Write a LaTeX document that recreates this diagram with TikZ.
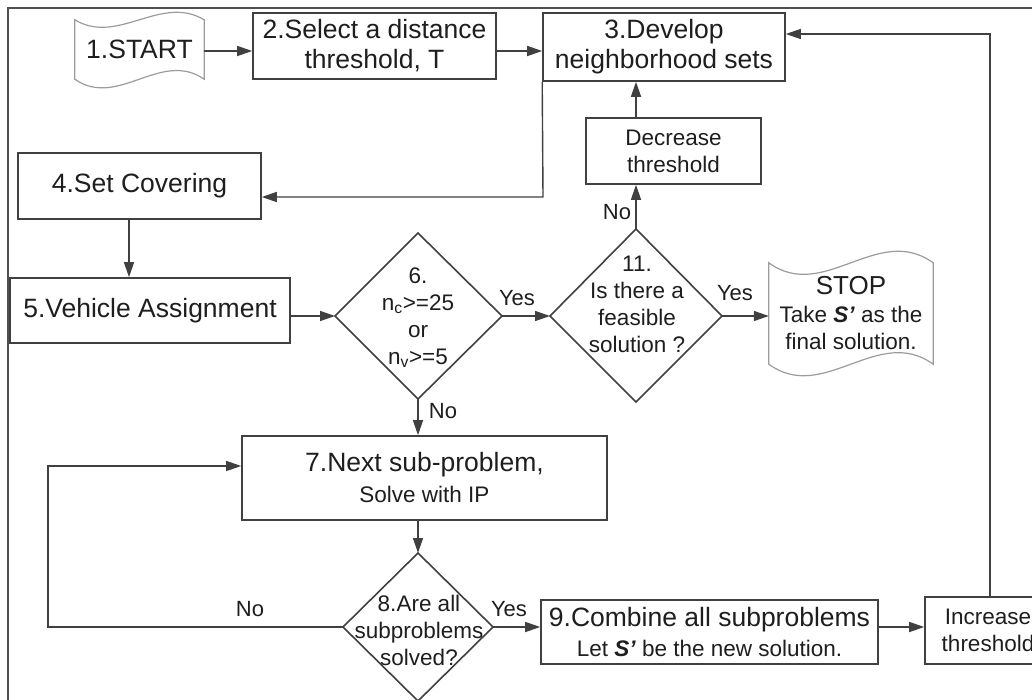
\documentclass[tikz,border=0pt]{standalone}
\usepackage{fontspec}
\setmainfont{Liberation Sans}
\usetikzlibrary{arrows.meta,calc}
\definecolor{ln}{HTML}{404040}
\definecolor{tx}{HTML}{1E1E1E}
\definecolor{tp}{HTML}{9C9C9C}
\definecolor{fr}{HTML}{505050}
\begin{document}
\begin{tikzpicture}[x=1pt,y=-1pt,
  box/.style={draw=ln,line width=1.6pt,fill=white,inner sep=0pt,align=center,text=tx},
  big/.style={font=\fontsize{26.5}{30}\selectfont},
  small/.style={font=\fontsize{22.5}{27}\selectfont},
  mixed/.style={font=\fontsize{22.5}{30}\selectfont},
  conn/.style={draw=ln,line width=1.4pt,-{Triangle[length=15pt,width=10pt]}},
  plain/.style={draw=ln,line width=1.4pt},
  lbl/.style={font=\fontsize{22}{26}\selectfont,text=tx,inner sep=0pt},
  tape/.style={draw=tp,line width=1.2pt},
  dia/.style={draw=ln,line width=1.6pt,fill=white},
  txt/.style={text=tx,align=center,inner sep=0pt}]
\useasboundingbox (0,0) rectangle (1032,700);
\clip (0,0) rectangle (1032,700);
\fill[white] (0,0) rectangle (1032,700);
% frame
\draw[fr,line width=1.4pt] (1040,8) -- (8,8) -- (8,710);

% boxes
\node[txt,big,minimum width=129pt,minimum height=59pt] (start) at (139.5,49.5) {1.START};
\node[box,big,minimum width=243pt,minimum height=66pt] (n2) at (374.5,46) {2.Select a distance\\threshold, T};
\node[box,big,minimum width=242pt,minimum height=68pt] (n3) at (664,47) {3.Develop\\neighborhood sets};
\node[box,big,minimum width=243pt,minimum height=66pt] (n4) at (139.5,186) {4.Set Covering};
\node[box,big,minimum width=280pt,minimum height=65pt] (n5) at (150,310.5) {5.Vehicle Assignment};
\node[box,small,minimum width=175pt,minimum height=66pt] (dec) at (673.5,151) {Decrease\\threshold};
\node[box,mixed,minimum width=365pt,minimum height=84pt] (n7) at (424.5,478) {{\fontsize{26.5}{30}\selectfont 7.Next sub-problem,}\\[1pt]Solve with IP};
\node[box,mixed,minimum width=337pt,minimum height=64pt] (n9) at (709.5,632) {{\fontsize{26.5}{30}\selectfont 9.Combine all subproblems}\\Let \textbf{\textit{S’}} be the new solution.};
\node[box,small,minimum width=126pt,minimum height=67pt] (inc) at (988,630.5) {Increase\\threshold};
\node[txt,small,minimum width=164pt,minimum height=101pt] (stop) at (851,313.5) {{\fontsize{26}{30}\selectfont STOP}\\[1pt]Take \textbf{\textit{S’}} as the\\final solution.};

% tape outlines
\draw[tape] (start.north west) .. controls ($(start.north west)+(43,26)$) and ($(start.north west)+(86,-26)$) .. (start.north east)
  -- (start.south east) .. controls ($(start.south west)+(86,-30)$) and ($(start.south west)+(43,30)$) .. (start.south west) -- cycle;
\draw[tape] (stop.north west) .. controls ($(stop.north west)+(55,40)$) and ($(stop.north west)+(109,-40)$) .. (stop.north east)
  -- (stop.south east) .. controls ($(stop.south west)+(109,-40)$) and ($(stop.south west)+(55,40)$) .. (stop.south west) -- cycle;

% diamonds
\coordinate (d6n) at (418,233); \coordinate (d6s) at (418,399);
\coordinate (d6w) at (335,316); \coordinate (d6e) at (502,316);
\draw[dia] (d6n) -- (d6e) -- (d6s) -- (d6w) -- cycle;
\node[txt,small] (d6) at (418,318) {6.\\n\textsubscript{c}>=25\\or\\n\textsubscript{v}>=5};

\coordinate (d11n) at (636,229); \coordinate (d11s) at (636,402);
\coordinate (d11w) at (550,316); \coordinate (d11e) at (722,316);
\draw[dia] (d11n) -- (d11e) -- (d11s) -- (d11w) -- cycle;
\node[txt,small] (d11) at (637,304) {11.\\Is there a\\feasible\\solution ?};

\coordinate (d8n) at (418,553); \coordinate (d8s) at (418,701);
\coordinate (d8w) at (343,627); \coordinate (d8e) at (493,627);
\draw[dia] (d8n) -- (d8e) -- (d8s) -- (d8w) -- cycle;
\node[txt,small] (d8) at (419,630) {8.Are all\\subproblems\\solved?};

% connectors
\coordinate (ya) at (0,51);
\draw[conn] (start.east |- ya) -- (n2.west |- ya);
\draw[conn] (n2.east |- ya) -- (n3.west |- ya);
\coordinate (c34) at (543,197);
\draw[conn] (n3.south west) -- (c34) -- (c34 -| n4.east);
\coordinate (c45) at (129,0);
\draw[conn] (c45 |- n4.south) -- (c45 |- n5.north);
\draw[conn] (n5.east |- d6w) -- (d6w);
\draw[conn] (d6e) -- (d11w);
\draw[conn] (d11e) -- (d11e -| stop.west);
\draw[conn] (d11n) -- (d11n |- dec.south);
\draw[conn] (d11n |- dec.north) -- (d11n |- n3.south);
\draw[conn] (d6s) -- (d6s |- n7.north);
\draw[conn] (d8n |- n7.south) -- (d8n);
\coordinate (loopL) at (48,466);
\draw[conn] (d8w) -| (loopL) -- (loopL -| n7.west);
\draw[conn] (d8e) -- (d8e -| n9.west);
\draw[conn] (n9.east |- d8e) -- (inc.west |- d8e);
\coordinate (loopR) at (990,34);
\draw[conn] (loopR |- inc.north) -- (loopR) -- (loopR -| n3.east);

% labels
\node[lbl] (y1) at (517,298) {Yes};
\node[lbl] (y2) at (735,293) {Yes};
\node[lbl] (no1) at (617,212) {No};
\node[lbl] (no2) at (443,411) {No};
\node[lbl] (no3) at (250,609) {No};
\node[lbl] (y3) at (509,609) {Yes};
\end{tikzpicture}
\end{document}
